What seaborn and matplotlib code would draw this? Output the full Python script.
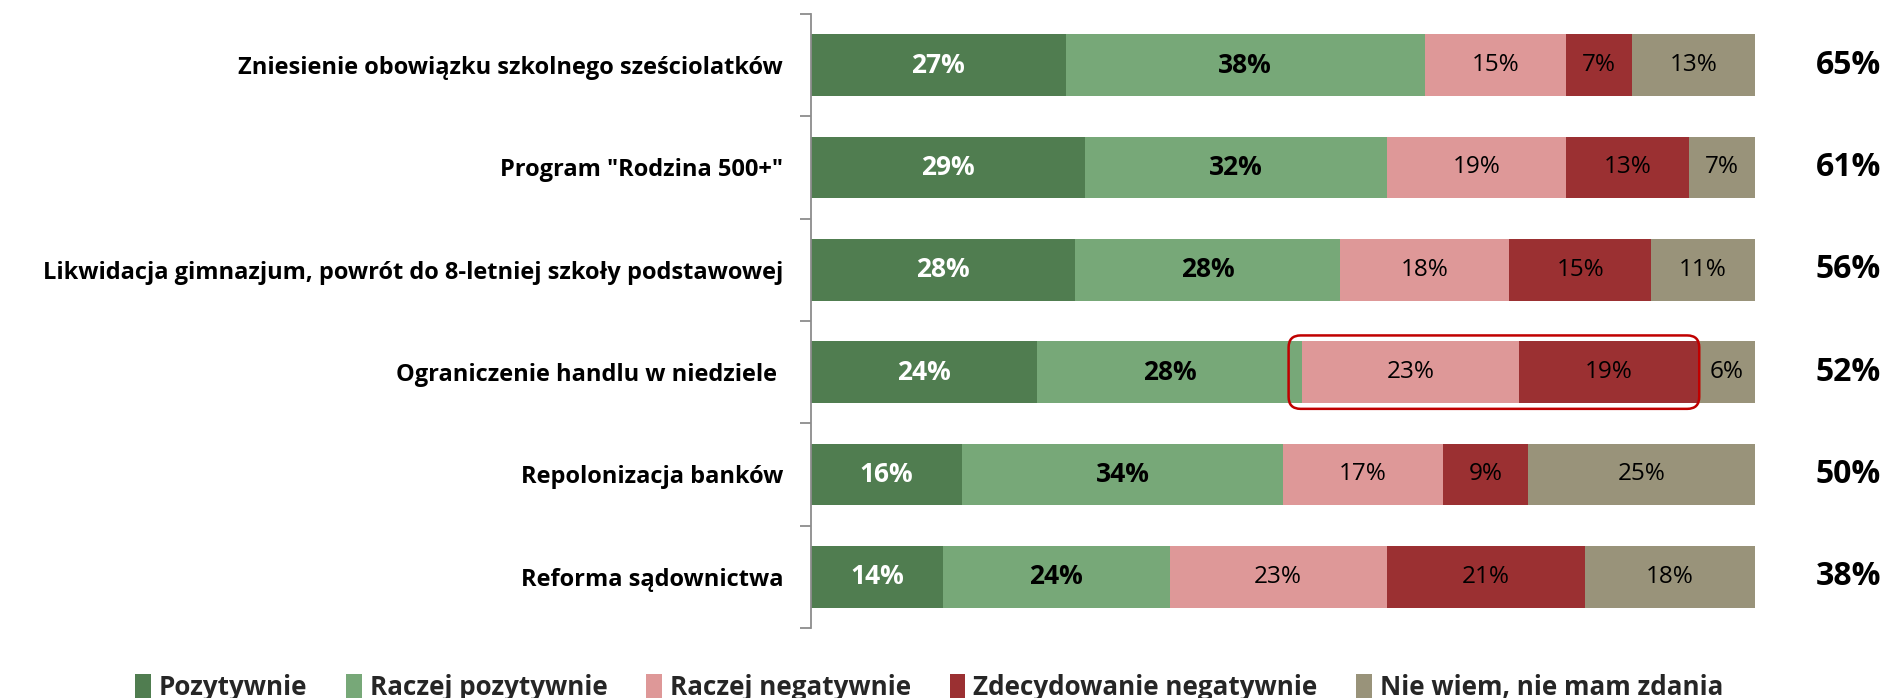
import matplotlib
matplotlib.use("Agg")
import matplotlib.pyplot as plt
import seaborn as sns
import pandas as pd
import numpy as np
from matplotlib.patches import Patch, FancyBboxPatch
from matplotlib.ticker import FixedLocator

categories = [
    "Zniesienie obowiązku szkolnego sześciolatków",
    'Program "Rodzina 500+"',
    "Likwidacja gimnazjum, powrót do 8-letniej szkoły podstawowej",
    "Ograniczenie handlu w niedziele ",
    "Repolonizacja banków",
    "Reforma sądownictwa",
]
series = ["Pozytywnie", "Raczej pozytywnie", "Raczej negatywnie",
          "Zdecydowanie negatywnie", "Nie wiem, nie mam zdania"]
pozytywnie = [27, 29, 28, 24, 16, 14]
raczej_pozytywnie = [38, 32, 28, 28, 34, 24]
raczej_negatywnie = [15, 19, 18, 23, 17, 23]
zdecydowanie_negatywnie = [7, 13, 15, 19, 9, 21]
nie_wiem = [13, 7, 11, 6, 25, 18]
totals_positive = ["65%", "61%", "56%", "52%", "50%", "38%"]

colors = ["#507D50", "#77A878", "#DE9898", "#9B3032", "#99937A"]

sns.set_theme(style="white")
plt.rcParams["font.family"] = ["Open Sans", "DejaVu Sans"]

values = [pozytywnie, raczej_pozytywnie, raczej_negatywnie,
          zdecydowanie_negatywnie, nie_wiem]
df = pd.DataFrame({s: v for s, v in zip(series, values)})
df["kat"] = categories
cum = df[series].cumsum(axis=1)

fig = plt.figure(figsize=(18.85, 6.98), dpi=100)
ax = fig.add_axes([0.4302, 0.1003, 0.5008, 0.8797])

for k in range(len(series) - 1, -1, -1):
    sns.barplot(x=cum[series[k]], y=df["kat"], ax=ax, color=colors[k],
                orient="h", width=0.6, linewidth=0, saturation=1)

ax.set_xlim(0, 100)
ax.set_ylim(5.5, -0.5)
ax.set_xlabel("")
ax.set_ylabel("")
ax.set_xticks([])
for s in ["top", "right", "bottom"]:
    ax.spines[s].set_visible(False)
ax.spines["left"].set_color("#8C8C8C")
ax.spines["left"].set_linewidth(1.3)
ax.yaxis.set_minor_locator(FixedLocator(np.arange(-0.5, 6.0, 1.0)))
ax.tick_params(axis="y", which="major", length=0, pad=20)
ax.tick_params(axis="y", which="minor", left=True, length=8, width=1.3,
               color="#8C8C8C", direction="out")
for lab in ax.get_yticklabels():
    lab.set_fontsize(17)
    lab.set_fontweight("bold")
    lab.set_color("black")

# segment labels
for i in range(len(categories)):
    start = 0
    for k, s in enumerate(series):
        v = df[s].iloc[i]
        end = min(start + v, 100)
        center = (start + end) / 2
        if k == 0:
            ax.text(center, i, f"{v}%", ha="center", va="center",
                    color="white", fontweight="bold", fontsize=19)
        elif k == 1:
            ax.text(center, i, f"{v}%", ha="center", va="center",
                    color="black", fontweight="bold", fontsize=19)
        else:
            ax.text(center, i, f"{v}%", ha="center", va="center",
                    color="black", fontsize=17.5)
        start += v
    ax.text(109.9, i, totals_positive[i], ha="center", va="center",
            fontweight="bold", fontsize=23, color="black", clip_on=False)

# red rounded rectangle around negative answers of row 4
x_per_px = 100 / (0.5008 * 1885)
y_per_px = 6 / (0.8797 * 698)
aspect = y_per_px / x_per_px
x0 = 50.6
x1 = 94.1
y_half = 0.3 + 6 * y_per_px
box = FancyBboxPatch((x0, 3 - y_half), x1 - x0, 2 * y_half,
                     boxstyle=f"round,pad=0,rounding_size={12 * x_per_px}",
                     mutation_aspect=aspect, fill=False,
                     edgecolor="#C00000", linewidth=1.8, clip_on=False,
                     zorder=5)
ax.add_patch(box)

handles = [Patch(facecolor=c, edgecolor="none", label=s)
           for c, s in zip(colors, series)]
fig.legend(handles=handles, loc="lower center", bbox_to_anchor=(0.493, -0.038),
           ncol=5, frameon=False, prop={"weight": "bold", "size": 18.7},
           handlelength=0.6, handleheight=1.1, handletextpad=0.3,
           columnspacing=1.5)

fig.savefig("out.png", dpi=100)
